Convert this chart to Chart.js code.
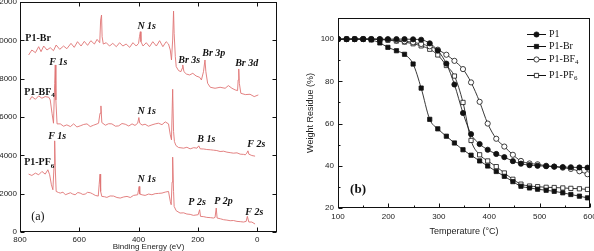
<!DOCTYPE html>
<html>
<head>
<meta charset="utf-8">
<script src="https://cdn.jsdelivr.net/npm/chart.js@4.4.0/dist/chart.umd.min.js"></script>
<style>
  html, body { margin: 0; padding: 0; background: #fff; overflow: hidden; }
  body { width: 594px; height: 251px; position: relative; }
  #wrapA { position: absolute; left: -20px; top: -10px; width: 320px; height: 270px; }
  #wrapB { position: absolute; left: 300px; top: 0; width: 314px; height: 251px; }
</style>
</head>
<body>
<div id="wrapA"><canvas id="xpsChart"></canvas></div>
<div id="wrapB"><canvas id="tgaChart"></canvas></div>
<script>
// ---- (a) XPS survey spectra: [binding energy (eV), counts] ----
const energyTicks = [0, 200, 400, 600, 800];
const countTicks = [0, 2000, 4000, 6000, 8000, 10000, 12000];

const brSpectrum = [[771,9235],[760,9495],[748,9356],[737,9669],[729,9408],[720,9703],[709,9495],[698,9617],[687,9460],[678,9755],[666,9530],[653,9703],[642,9564],[628,9842],[617,9634],[606,9929],[594,9703],[583,9946],[572,9738],[561,9981],[549,9807],[540,10050],[531,9877],[528,11057],[525,11318],[523,10189],[519,9807],[509,9877],[498,9703],[487,9842],[475,9669],[464,9877],[453,9703],[442,9807],[430,9634],[419,9877],[408,9703],[400,9842],[397,10189],[394,10450],[392,9929],[385,9703],[374,9877],[363,9669],[352,9929],[340,9703],[329,9981],[318,9669],[307,9929],[299,9807],[293,9495],[289,8974],[285,10016],[282,11526],[280,10363],[276,9148],[273,8627],[265,8419],[257,8367],[253,8540],[251,8714],[247,8367],[239,8245],[228,8193],[217,8280],[206,8141],[194,8071],[188,7933],[181,8367],[176,8974],[173,8367],[167,7759],[158,7551],[142,7499],[125,7551],[108,7499],[97,7638],[85,7499],[74,7412],[66,7377],[64,7933],[62,8506],[60,7759],[55,7238],[40,7169],[24,7186],[10,7065],[-4,7151]];

const bf4Spectrum = [[767,6891],[760,7065],[748,6926],[737,7099],[726,6978],[715,7065],[703,7030],[698,6891],[692,6197],[687,5676],[683,7759],[681,8714],[679,6891],[675,5641],[664,5641],[653,5520],[642,5589],[630,5500],[619,5641],[608,5480],[597,5537],[585,5610],[574,5641],[563,5500],[552,5572],[540,5640],[535,5676],[530,6197],[527,6578],[524,5710],[512,5572],[501,5650],[490,5641],[478,5520],[467,5537],[456,5660],[445,5624],[433,5530],[422,5641],[412,5560],[403,5676],[399,5971],[396,5676],[388,5580],[378,5624],[367,5520],[355,5589],[344,5640],[333,5676],[321,5600],[310,5745],[299,5641],[293,5068],[289,4808],[285,7447],[282,5242],[279,4721],[274,4513],[265,4408],[248,4374],[237,4420],[226,4339],[214,4400],[203,4374],[197,4495],[192,4339],[180,4330],[170,4304],[158,4290],[147,4270],[136,4250],[125,4200],[113,4215],[102,4166],[91,4140],[80,4113],[68,4130],[57,4061],[46,4050],[40,4027],[35,4113],[31,4235],[28,4061],[18,3992],[7,3957]];

const pf6Spectrum = [[771,3020],[760,2950],[748,3072],[737,2985],[726,3159],[715,3020],[706,3245],[700,2985],[694,2464],[689,2204],[685,3506],[683,4756],[681,3332],[678,2117],[670,2060],[664,2030],[655,2080],[647,1943],[638,2000],[630,2048],[622,1980],[614,1943],[605,2060],[597,2030],[588,1960],[580,1978],[572,2070],[563,2048],[555,1990],[546,1909],[536,1874],[533,2464],[530,3020],[528,2117],[524,1857],[515,1840],[507,1805],[496,1880],[484,1874],[473,1800],[462,1770],[450,1830],[439,1857],[428,1800],[417,1909],[403,1943],[400,2204],[398,2375],[396,1978],[388,1940],[378,1909],[366,1980],[355,1943],[344,2000],[333,2013],[321,2030],[310,2082],[299,2117],[293,1596],[290,1423],[287,2600],[285,3905],[282,2117],[280,1336],[273,1110],[260,989],[248,1000],[237,937],[226,920],[215,867],[199,902],[194,1162],[191,815],[180,800],[170,763],[158,750],[147,728],[142,763],[138,1249],[135,728],[124,690],[113,641],[102,620],[91,589],[80,600],[68,554],[57,540],[46,520],[37,554],[33,815],[28,520],[18,520],[7,416]];

// ---- (b) TGA curves ----
const tempTicks = [100, 200, 300, 400, 500, 600];
const weightTicks = [20, 40, 60, 80, 100];
const temps = [100,117,133,150,166,183,199,216,232,249,265,282,298,315,331,348,364,381,397,414,430,447,463,480,496,513,529,546,562,579,595];
const p1 = [100,100,100,100,100,100,100,100,100,99.9,99.7,98,94.6,88.4,78.5,65,55,50.3,47.6,45.6,44.1,42.2,41,40.3,40,39.8,39.6,39.4,39.3,39.2,39.1];
const p1Br = [100,100,100,100,99.6,98.2,96.1,94.5,92.8,88.2,76.8,62,57.5,54,50.8,47.6,45,42.3,39.9,37.3,35,32.5,30.3,29.5,28.9,28.4,27.9,27.2,26.4,25.6,24.8];
const p1BF4 = [100,100,100,100,100,99.9,99.7,99.4,99,98.5,97.7,96.6,95,92.6,89.7,85.8,79.5,70.3,60,52.8,49.1,45.2,42.3,41.1,40.7,40,39.6,39.1,38.5,37.4,36];
const p1PF6 = [100,100,100,100,100,99.8,99.5,99.1,98.6,97.8,96.8,95.2,92.5,87.5,82.5,70,52,45.2,42.3,39.6,36.6,33.6,31.3,30.4,30.1,29.8,29.7,29.5,29.3,29.1,28.8];
const seriesNames = ['P1', 'P1-Br', 'P1-BF4', 'P1-PF6'];

// peak / sample labels placed in data coordinates of panel (a)
const xpsNotes = [
  { text: 'P1-Br', e: 782, c: 10120, kind: 'name' },
  { text: 'N 1s', e: 404, c: 10745 },
  { text: 'F 1s', e: 701, c: 8870 },
  { text: 'Br 3s', e: 266, c: 8974 },
  { text: 'Br 3p', e: 185, c: 9339 },
  { text: 'Br 3d', e: 74, c: 8818 },
  { text: 'P1-BF', sub: '4', e: 786, c: 7307, kind: 'name' },
  { text: 'N 1s', e: 404, c: 6266 },
  { text: 'F 1s', e: 705, c: 4964 },
  { text: 'B 1s', e: 202, c: 4807 },
  { text: 'F 2s', e: 33, c: 4547 },
  { text: 'P1-PF', sub: '6', e: 786, c: 3609, kind: 'name' },
  { text: 'N 1s', e: 404, c: 2724 },
  { text: 'P 2s', e: 232, c: 1526 },
  { text: 'P 2p', e: 145, c: 1578 },
  { text: 'F 2s', e: 40, c: 1005 },
  { text: '(a)', e: 762, c: 797, kind: 'panel' }
];

const serif = '"Liberation Serif", "Times New Roman", serif';
const sans = '"Liberation Sans", Arial, sans-serif';

function fixTicks(values) {
  return function (scale) { scale.ticks = values.map(v => ({ value: v })); };
}
function between(values) {
  const out = [];
  for (let i = 0; i < values.length - 1; i++) out.push((values[i] + values[i + 1]) / 2);
  return out;
}
function textWithSub(ctx, x, y, text, sub, font, subFont) {
  ctx.font = font;
  ctx.fillText(text, x, y);
  if (sub) {
    const w = ctx.measureText(text).width;
    ctx.font = subFont;
    ctx.fillText(sub, x + w, y + 3);
  }
}

// box around the plot with inward tick marks
const frameTicks = {
  id: 'frameTicks',
  afterDatasetsDraw(chart, args, opts) {
    const { ctx, chartArea: area } = chart;
    const x = chart.scales.x, y = chart.scales.y;
    const left = Math.round(area.left) + 0.5, right = Math.round(area.right) - 0.5;
    const top = Math.round(area.top) + 0.5, bottom = Math.round(area.bottom) - 0.5;
    ctx.save();
    ctx.strokeStyle = '#111';
    ctx.lineWidth = 1;
    ctx.strokeRect(left, top, right - left, bottom - top);
    ctx.beginPath();
    const xMarks = (vals, len) => vals.forEach(v => {
      const px = Math.round(x.getPixelForValue(v)) + 0.5;
      ctx.moveTo(px, bottom); ctx.lineTo(px, bottom - len);
      if (opts.mirror) { ctx.moveTo(px, top); ctx.lineTo(px, top + len); }
    });
    const yMarks = (vals, len) => vals.forEach(v => {
      const py = Math.round(y.getPixelForValue(v)) + 0.5;
      ctx.moveTo(left, py); ctx.lineTo(left + len, py);
      if (opts.mirror) { ctx.moveTo(right, py); ctx.lineTo(right - len, py); }
    });
    xMarks(x.ticks.map(t => t.value), opts.len);
    yMarks(y.ticks.map(t => t.value), opts.len);
    xMarks(opts.xMinor || [], opts.minorLen || 2);
    yMarks(opts.yMinor || [], opts.minorLen || 2);
    ctx.stroke();
    ctx.restore();
  }
};

const xpsText = {
  id: 'xpsText',
  afterDraw(chart) {
    const ctx = chart.ctx;
    const x = chart.scales.x, y = chart.scales.y;
    ctx.save();
    ctx.fillStyle = '#111';
    ctx.textAlign = 'left';
    ctx.textBaseline = 'middle';
    xpsNotes.forEach(n => {
      const px = x.getPixelForValue(n.e), py = y.getPixelForValue(n.c);
      if (n.kind === 'name') {
        textWithSub(ctx, px, py, n.text, n.sub, 'bold 10px ' + serif, 'bold 7px ' + serif);
      } else if (n.kind === 'panel') {
        textWithSub(ctx, px, py, n.text, null, '12px ' + serif);
      } else {
        textWithSub(ctx, px, py, n.text, null, 'italic bold 10px ' + serif);
      }
    });
    ctx.restore();
  }
};

const tgaLegend = {
  id: 'tgaLegend',
  afterDraw(chart) {
    const ctx = chart.ctx;
    const rows = [34, 46, 59, 75];
    ctx.save();
    chart.data.datasets.forEach((ds, i) => {
      const yy = rows[i];
      ctx.strokeStyle = '#111';
      ctx.lineWidth = 1;
      ctx.beginPath();
      ctx.moveTo(227, yy + 0.5); ctx.lineTo(246, yy + 0.5);
      ctx.stroke();
      ctx.fillStyle = ds.pointBackgroundColor;
      ctx.strokeStyle = '#111';
      ctx.lineWidth = 0.8;
      Chart.helpers.drawPoint(ctx, { pointStyle: ds.pointStyle, radius: ds.pointRadius, borderWidth: 0.8, rotation: 0 }, 236.5, yy + 0.5);
      ctx.fillStyle = '#111';
      ctx.textAlign = 'left';
      ctx.textBaseline = 'middle';
      const m = ds.label.match(/^(.*F)(\d)$/);
      if (m) textWithSub(ctx, 249, yy, m[1], m[2], '10px ' + serif, '7px ' + serif);
      else textWithSub(ctx, 249, yy, ds.label, null, '10px ' + serif);
    });
    // panel tag
    const px = chart.scales.x.getPixelForValue(124), py = chart.scales.y.getPixelForValue(28.6);
    textWithSub(ctx, px, py, '(b)', null, 'bold 13px ' + serif);
    ctx.restore();
  }
};

function spectrumSet(pairs) {
  return {
    data: pairs.map(p => ({ x: p[0], y: p[1] })),
    showLine: true,
    borderColor: '#e07474',
    borderWidth: 0.9,
    pointRadius: 0,
    tension: 0
  };
}

new Chart(document.getElementById('xpsChart'), {
  type: 'scatter',
  data: { datasets: [spectrumSet(brSpectrum), spectrumSet(bf4Spectrum), spectrumSet(pf6Spectrum)] },
  options: {
    responsive: true,
    maintainAspectRatio: false,
    animation: false,
    devicePixelRatio: 1,
    layout: { padding: { top: 12, right: 23, left: 0, bottom: 0 } },
    plugins: {
      legend: { display: false },
      tooltip: { enabled: false },
      frameTicks: { mirror: true, len: 4 }
    },
    scales: {
      x: {
        type: 'linear', reverse: true, min: -67, max: 800,
        afterBuildTicks: fixTicks(energyTicks),
        afterFit: s => { s.height = 28; },
        grid: { display: false, drawTicks: false }, border: { display: false },
        ticks: { padding: 3, autoSkip: false, maxRotation: 0, color: '#222', font: { family: sans, size: 8 }, callback: v => String(v) },
        title: { display: true, text: 'Binding Energy (eV)', color: '#222', font: { family: sans, size: 8 }, padding: { top: 0, bottom: 8 } }
      },
      y: {
        min: 0, max: 12000,
        afterBuildTicks: fixTicks(countTicks),
        afterFit: s => { s.width = 40; },
        grid: { display: false, drawTicks: false }, border: { display: false },
        ticks: { padding: 3, autoSkip: false, color: '#222', font: { family: sans, size: 8 }, callback: v => String(v) }
      }
    }
  },
  plugins: [frameTicks, xpsText]
});

const tgaValues = [p1, p1Br, p1BF4, p1PF6];
const tgaStyles = [
  { pointStyle: 'circle', fill: '#111', r: 2.6 },
  { pointStyle: 'rect', fill: '#111', r: 3 },
  { pointStyle: 'circle', fill: '#fff', r: 2.6 },
  { pointStyle: 'rect', fill: '#fff', r: 3 }
];

new Chart(document.getElementById('tgaChart'), {
  type: 'line',
  data: {
    datasets: seriesNames.map((name, i) => ({
      label: name,
      data: temps.map((t, k) => ({ x: t, y: tgaValues[i][k] })),
      borderColor: '#222',
      borderWidth: 0.9,
      cubicInterpolationMode: 'monotone',
      pointStyle: tgaStyles[i].pointStyle,
      pointRadius: tgaStyles[i].r,
      pointBackgroundColor: tgaStyles[i].fill,
      pointBorderColor: '#111',
      pointBorderWidth: 0.8
    }))
  },
  options: {
    responsive: true,
    maintainAspectRatio: false,
    animation: false,
    devicePixelRatio: 1,
    layout: { padding: { top: 18, right: 24, left: 0, bottom: 0 } },
    plugins: {
      legend: { display: false },
      tooltip: { enabled: false },
      frameTicks: { mirror: false, len: 4, minorLen: 2, xMinor: between(tempTicks), yMinor: between(weightTicks) }
    },
    scales: {
      x: {
        type: 'linear', min: 100, max: 600,
        afterBuildTicks: fixTicks(tempTicks),
        afterFit: s => { s.height = 43; },
        grid: { display: false, drawTicks: false }, border: { display: false },
        ticks: { padding: 4, autoSkip: false, maxRotation: 0, color: '#222', font: { family: sans, size: 8 } },
        title: { display: true, text: 'Temperature (\u00B0C)', color: '#222', font: { family: sans, size: 9 }, padding: { top: 0, bottom: 14 } }
      },
      y: {
        min: 20, max: 110,
        afterBuildTicks: fixTicks(weightTicks),
        afterFit: s => { s.width = 38; },
        grid: { display: false, drawTicks: false }, border: { display: false },
        ticks: { padding: 4, autoSkip: false, color: '#222', font: { family: sans, size: 8 } },
        title: { display: true, text: 'Weight Residue (%)', color: '#222', font: { family: sans, size: 9 }, padding: { top: 5, bottom: 0 } }
      }
    }
  },
  plugins: [frameTicks, tgaLegend]
});
</script>
</body>
</html>
